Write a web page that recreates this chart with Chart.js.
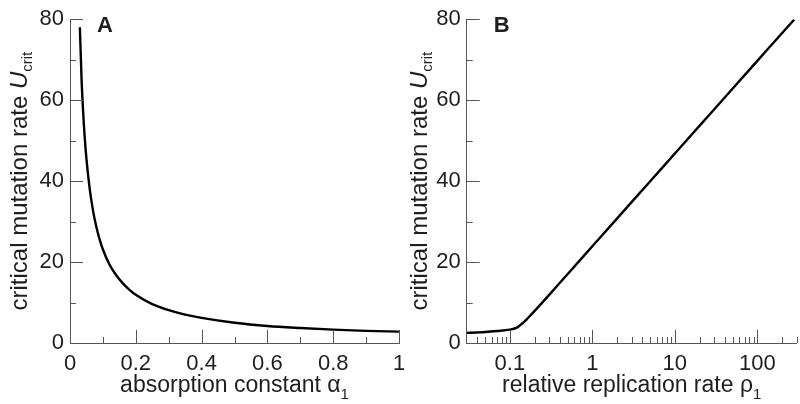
<!DOCTYPE html>
<html>
<head>
<meta charset="utf-8">
<script src="https://cdn.jsdelivr.net/npm/chart.js@4.4.1/dist/chart.umd.min.js"></script>
<style>
  html, body { margin: 0; padding: 0; background: #fff; }
  #wrap { position: relative; width: 800px; height: 404px; overflow: hidden; }
  canvas { position: absolute; left: 0; top: 0; }
</style>
</head>
<body>
<div id="wrap">
  <canvas id="cA" width="800" height="404" style="width:800px;height:404px"></canvas>
  <canvas id="cB" width="800" height="404" style="width:800px;height:404px"></canvas>
</div>
<script>
// ---- Panel A data: critical mutation rate vs absorption constant ----
const alphaA = [0.03, 0.035, 0.04, 0.045, 0.05, 0.06, 0.07, 0.08, 0.09, 0.1, 0.12, 0.14, 0.16, 0.18, 0.2, 0.25, 0.3, 0.35, 0.4, 0.5, 0.6, 0.7, 0.8, 0.9, 1.0];
const uCritA = [78, 65.5, 57, 50.5, 45.5, 38, 32.7, 28.7, 25.6, 23.1, 19.4, 16.8, 14.8, 13.2, 11.9, 9.6, 8.1, 7.0, 6.2, 5.0, 4.2, 3.7, 3.3, 3.0, 2.8];

// ---- Panel B data: critical mutation rate vs relative replication rate ----
const rhoB   = [0.03, 0.04, 0.05, 0.07, 0.1, 0.12, 0.13, 0.14, 0.15, 0.16, 0.18, 0.2, 0.25, 0.3, 0.5, 1, 2, 5, 10, 20, 50, 100, 200, 280];
const uCritB = [2.5, 2.6, 2.7, 2.95, 3.3, 3.75, 4.2, 4.75, 5.3, 5.85, 6.95, 7.95, 10.1, 11.9, 17.0, 23.9, 30.8, 39.9, 46.8, 53.7, 62.8, 69.7, 76.6, 79.9];

// ---- Tick values and labels ----
const yMajor = [0, 20, 40, 60, 80];
const yMinor = [10, 30, 50, 70];
const yLabels = ['0', '20', '40', '60', '80'];
const xMajorA = [0, 0.2, 0.4, 0.6, 0.8, 1];
const xMinorA = [0.1, 0.3, 0.5, 0.7, 0.9];
const xLabelsA = ['0', '0.2', '0.4', '0.6', '0.8', '1'];
const xMajorB = [0.1, 1, 10, 100];
const xMinorB = [0.04, 0.05, 0.06, 0.07, 0.08, 0.09, 0.2, 0.3, 0.4, 0.5, 0.6, 0.7, 0.8, 0.9, 2, 3, 4, 5, 6, 7, 8, 9, 20, 30, 40, 50, 60, 70, 80, 90, 200, 300];
const xLabelsB = ['0.1', '1', '10', '100'];

const FONT = "'Liberation Sans', Arial, Helvetica, sans-serif";
const TXT = '#1e1e1e';
const AXC = '#555555';

const innerTicks = {
  id: 'innerTicks',
  afterDraw(chart, args, o) {
    const { ctx, chartArea: a, scales: { x, y } } = chart;
    ctx.save();
    ctx.strokeStyle = AXC;
    ctx.lineWidth = 1;
    const drawX = (vals, len) => vals.forEach(v => {
      const p = Math.round(x.getPixelForValue(v)) + 0.5;
      ctx.beginPath(); ctx.moveTo(p, a.bottom); ctx.lineTo(p, a.bottom - len); ctx.stroke();
    });
    const drawY = (vals, len) => vals.forEach(v => {
      const p = Math.round(y.getPixelForValue(v)) + 0.5;
      ctx.beginPath(); ctx.moveTo(a.left, p); ctx.lineTo(a.left + len, p); ctx.stroke();
    });
    drawX(o.xMajor, 13); drawX(o.xMinor, 6);
    drawY(o.yMajor, 13); drawY(o.yMinor, 6);
    ctx.restore();
  }
};

function fontStr(p) {
  return (p.style || '') + ' ' + (p.weight || 'normal') + ' ' + p.size + 'px ' + FONT;
}
function drawRich(ctx, parts, cx, cy) {
  let total = 0;
  parts.forEach(p => { ctx.font = fontStr(p); p.w = ctx.measureText(p.text).width; total += p.w; });
  let xx = cx - total / 2;
  parts.forEach(p => { ctx.font = fontStr(p); ctx.fillText(p.text, xx, cy + (p.dy || 0)); xx += p.w; });
}

const richTitles = {
  id: 'richTitles',
  afterDraw(chart, args, o) {
    const { ctx, chartArea: a } = chart;
    ctx.save();
    ctx.fillStyle = TXT;
    ctx.textAlign = 'left';
    ctx.textBaseline = 'alphabetic';
    drawRich(ctx, o.xParts, (a.left + a.right) / 2, 392);
    ctx.save();
    ctx.translate(o.panelX + 27, (a.top + a.bottom) / 2);
    ctx.rotate(-Math.PI / 2);
    drawRich(ctx, o.yParts, 0, 0);
    ctx.restore();
    ctx.font = 'bold 22px ' + FONT;
    ctx.fillText(o.letter, a.left + 27, 32);
    ctx.restore();
  }
};

const yTitleParts = () => [
  { text: 'critical mutation rate ', size: 24 },
  { text: 'U', size: 24, style: 'italic' },
  { text: 'crit', size: 15, dy: 5 }
];

function makeOptions(cfg) {
  return {
    responsive: false,
    animation: false,
    devicePixelRatio: 1,
    layout: { padding: cfg.padding },
    plugins: {
      legend: { display: false },
      tooltip: { enabled: false },
      innerTicks: { xMajor: cfg.xMajor, xMinor: cfg.xMinor, yMajor: yMajor, yMinor: yMinor },
      richTitles: { xParts: cfg.xParts, yParts: yTitleParts(), panelX: cfg.panelX, letter: cfg.letter }
    },
    scales: {
      x: {
        type: cfg.xType,
        min: cfg.xMin, max: cfg.xMax,
        grid: { display: false, drawTicks: false },
        border: { display: true, color: AXC, width: 1 },
        afterFit: s => { s.height = 61; },
        afterBuildTicks: s => { s.ticks = cfg.xMajor.map(v => ({ value: v })); },
        ticks: {
          autoSkip: false, maxRotation: 0, minRotation: 0, padding: 8,
          color: TXT, font: { family: FONT, size: 22 },
          callback: (v, i) => cfg.xLabels[i]
        }
      },
      y: {
        type: 'linear',
        min: 0, max: 80,
        grid: { display: false, drawTicks: false },
        border: { display: true, color: AXC, width: 1 },
        afterFit: s => { s.width = cfg.yWidth; },
        afterBuildTicks: s => { s.ticks = yMajor.map(v => ({ value: v })); },
        ticks: {
          autoSkip: false, padding: 6,
          color: TXT, font: { family: FONT, size: 22 },
          callback: (v, i) => yLabels[i]
        }
      }
    }
  };
}

function lineData(xs, ys) {
  return {
    datasets: [{
      data: xs.map((x, i) => ({ x: x, y: ys[i] })),
      borderColor: '#000',
      borderWidth: 2.4,
      pointRadius: 0,
      fill: false,
      cubicInterpolationMode: 'monotone'
    }]
  };
}

new Chart(document.getElementById('cA'), {
  type: 'line',
  data: lineData(alphaA, uCritA),
  options: makeOptions({
    padding: { left: 0, right: 401, top: 12, bottom: 0 },
    yWidth: 70, panelX: 0, letter: 'A',
    xType: 'linear', xMin: 0, xMax: 1,
    xMajor: xMajorA, xMinor: xMinorA, xLabels: xLabelsA,
    xParts: [
      { text: 'absorption constant ', size: 23 },
      { text: 'α', size: 23 },
      { text: '1', size: 15, dy: 7 }
    ]
  }),
  plugins: [innerTicks, richTitles]
});

new Chart(document.getElementById('cB'), {
  type: 'line',
  data: lineData(rhoB, uCritB),
  options: makeOptions({
    padding: { left: 400, right: 3.3, top: 12, bottom: 0 },
    yWidth: 66.7, panelX: 400, letter: 'B',
    xType: 'logarithmic', xMin: 0.03, xMax: 300,
    xMajor: xMajorB, xMinor: xMinorB, xLabels: xLabelsB,
    xParts: [
      { text: 'relative replication rate ', size: 23 },
      { text: 'ρ', size: 23 },
      { text: '1', size: 15, dy: 7 }
    ]
  }),
  plugins: [innerTicks, richTitles]
});
</script>
</body>
</html>
